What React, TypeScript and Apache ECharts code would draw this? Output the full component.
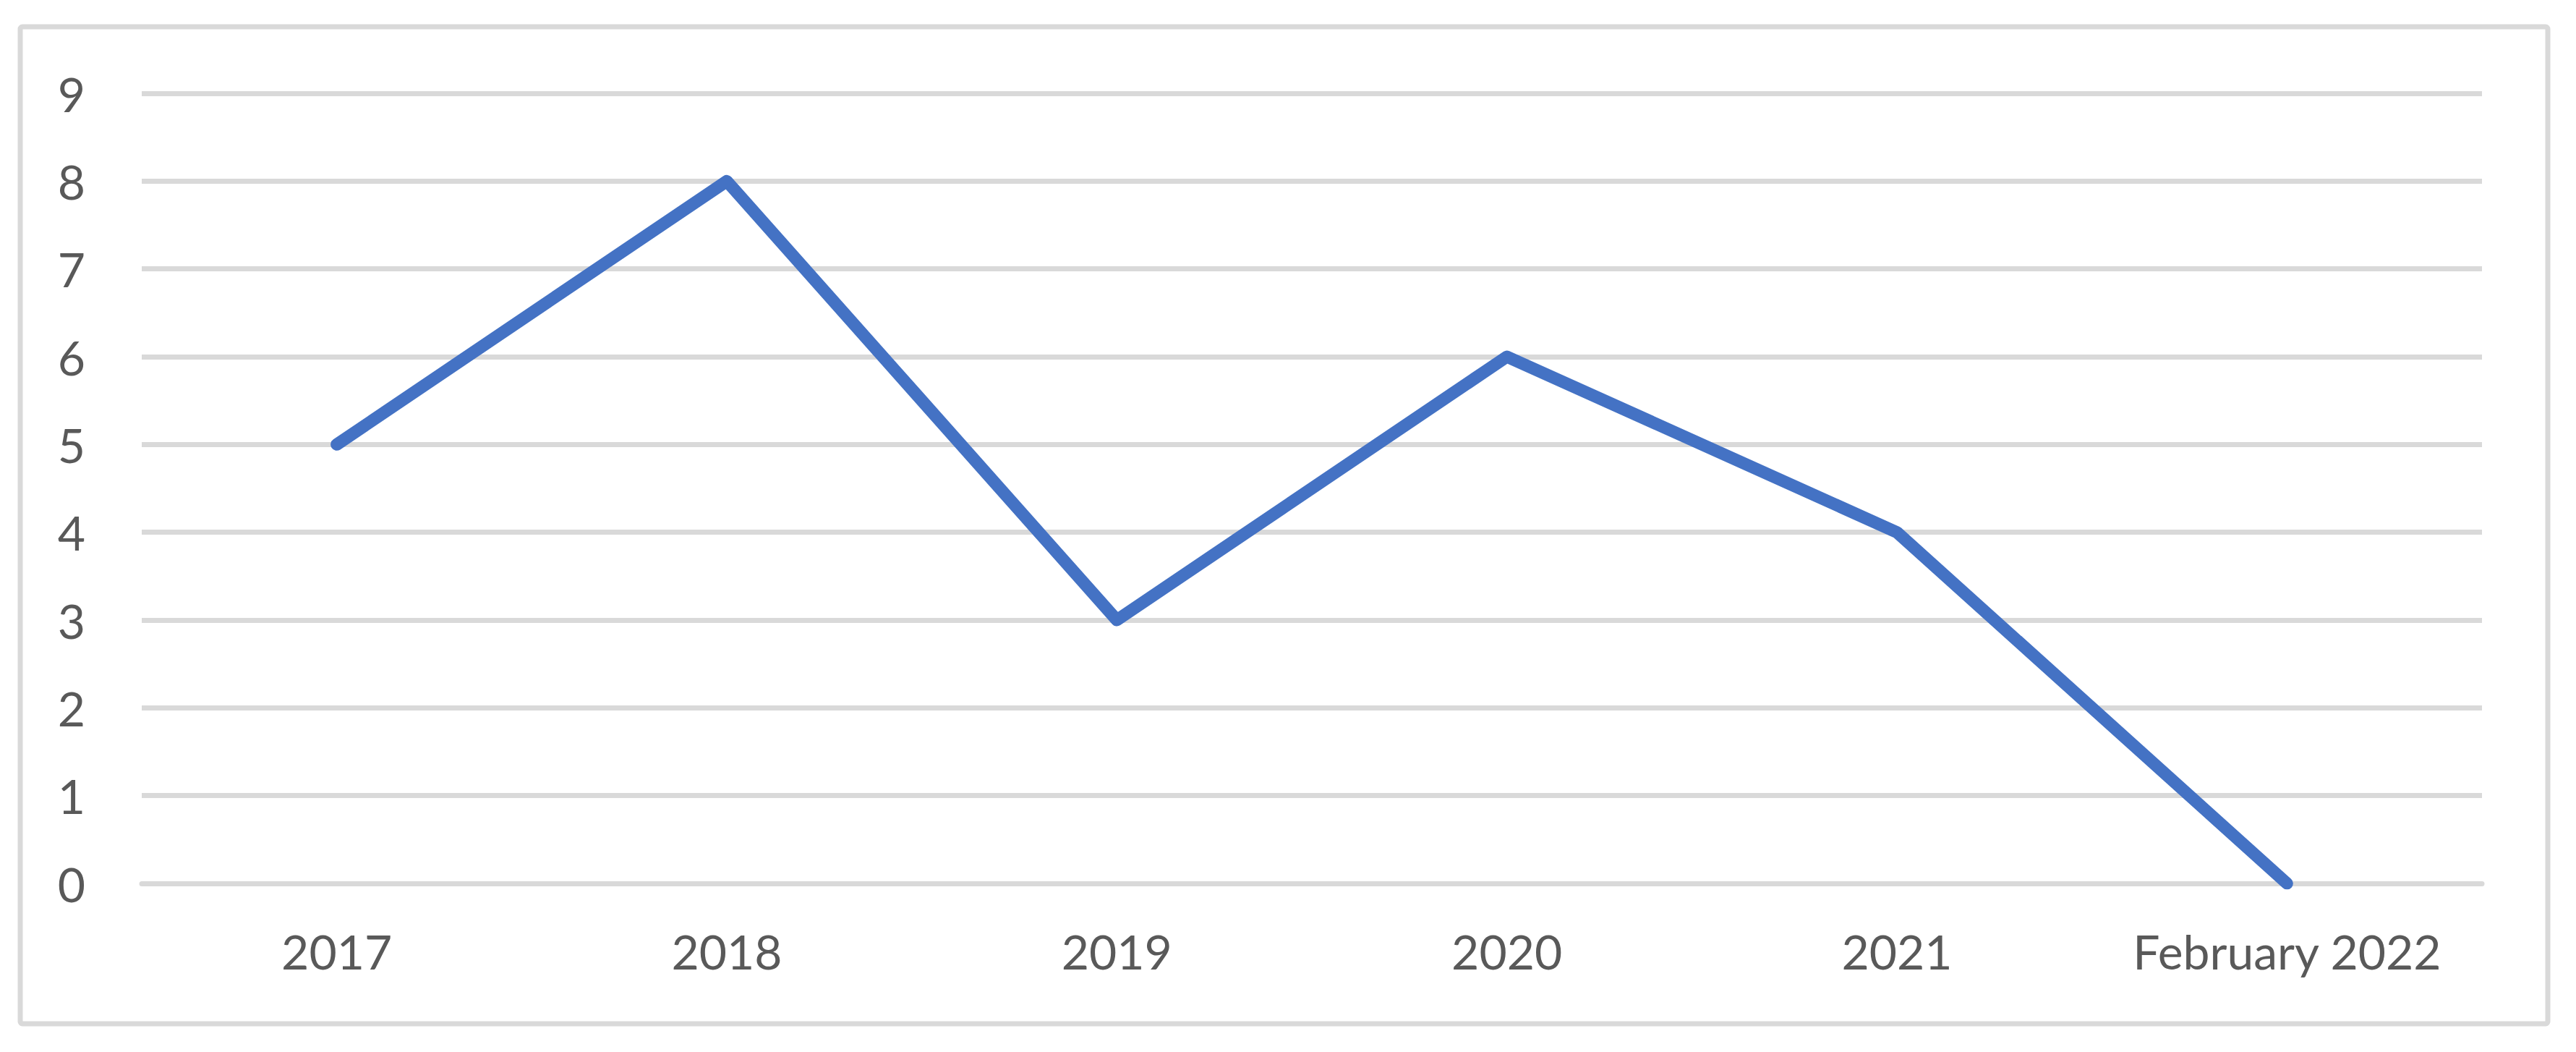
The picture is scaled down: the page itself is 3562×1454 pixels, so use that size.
import React, { useEffect, useRef } from "react";
import * as echarts from "echarts";

const categories = ["2017", "2018", "2019", "2020", "2021", "February 2022"];
const values = [5, 8, 3, 6, 4, 0];
const yTicks = { min: 0, max: 9, interval: 1 };

export default function App() {
  const ref = useRef<HTMLDivElement>(null);
  useEffect(() => {
    if (!ref.current) return;
    const chart = echarts.init(ref.current, null, { renderer: "svg" });
    chart.setOption({
      animation: false,
      backgroundColor: "#ffffff",
      textStyle: { fontFamily: "Lato" },
      graphic: [
        {
          type: "rect",
          shape: { x: 28, y: 37, width: 3495, height: 1378, r: 3 },
          style: { fill: "none", stroke: "#d9d9d9", lineWidth: 7 },
          silent: true,
        },
      ],
      grid: { left: 196, right: 130, top: 129, bottom: 233, containLabel: false },
      xAxis: {
        type: "category",
        data: categories,
        boundaryGap: true,
        axisLine: { show: true, lineStyle: { color: "#d9d9d9", width: 7 } },
        axisTick: { show: false },
        axisLabel: { color: "#595959", fontSize: 66, fontFamily: "Lato", margin: 60, interval: 0, hideOverlap: false },
        splitLine: { show: false },
      },
      yAxis: {
        type: "value",
        min: yTicks.min,
        max: yTicks.max,
        interval: yTicks.interval,
        axisLine: { show: false },
        axisTick: { show: false },
        axisLabel: { color: "#595959", fontSize: 66, fontFamily: "Lato", margin: 78 },
        splitLine: { show: true, lineStyle: { color: "#d9d9d9", width: 7 } },
      },
      series: [
        {
          type: "line",
          data: values,
          symbol: "none",
          lineStyle: { color: "#4472C4", width: 17, cap: "round", join: "round" },
        },
      ],
    });
    return () => chart.dispose();
  }, []);
  return (
    <div
      ref={ref}
      style={{ position: "fixed", left: 0, top: 0, width: 3562, height: 1454, background: "#fff" }}
    />
  );
}
